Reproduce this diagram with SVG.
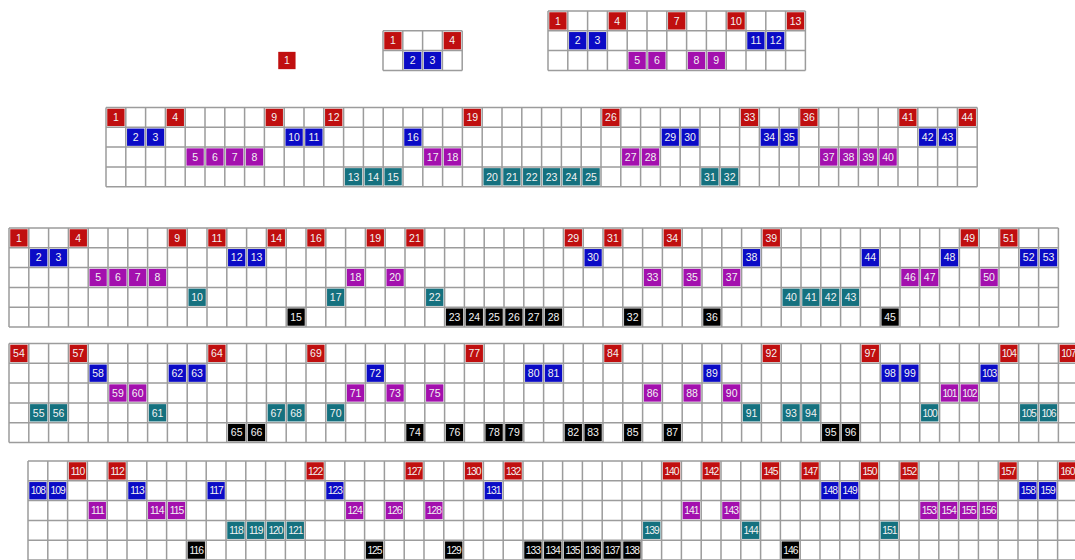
<svg xmlns="http://www.w3.org/2000/svg" xmlns:xlink="http://www.w3.org/1999/xlink" width="1075" height="560" viewBox="0 0 1075 560">
<style>
.v{stroke:#9c9c9c;stroke-dasharray:1.5 18.3;fill:none}
.r{fill:#c00f0f}.b{fill:#0b0bc6}.p{fill:#a310ae}.t{fill:#15717f}.k{fill:#000}
text{font-family:"Liberation Sans",Arial,sans-serif;font-size:10.5px;fill:#f2f2f2;text-anchor:middle}
.w text{letter-spacing:-1px;font-size:10.3px}
</style>
<defs><rect id="s" x="1.25" y="1.25" width="17.3" height="17.3"/></defs>
<rect width="1075" height="560" fill="#fff"/>

<g id="grid1" transform="translate(277,50.6)">
<g class="r"><use href="#s"/><text x="9.9" y="13.7">1</text></g>
</g>

<g id="grid2" transform="translate(383,30.8)">
<g class="lines"><line class="v" x1="-0.75" y1="19.8" x2="79.95" y2="19.8" stroke-width="39.6"/><line class="v" x1="39.6" y1="-0.75" x2="39.6" y2="40.35" stroke-width="79.2"/></g>
<g class="r" transform="translate(0,0)"><use href="#s"/><text x="9.9" y="13.7">1</text></g>
<g class="r" transform="translate(59.4,0)"><use href="#s"/><text x="9.9" y="13.7">4</text></g>
<g class="b" transform="translate(19.8,19.8)"><use href="#s"/><text x="9.9" y="13.7">2</text></g>
<g class="b" transform="translate(39.6,19.8)"><use href="#s"/><text x="9.9" y="13.7">3</text></g>
</g>

<g id="grid3" transform="translate(548,11)">
<g class="lines"><line class="v" x1="-0.75" y1="29.7" x2="258.15" y2="29.7" stroke-width="59.4"/><line class="v" x1="128.7" y1="-0.75" x2="128.7" y2="60.15" stroke-width="257.4"/></g>
<g class="r" transform="translate(0,0)"><use href="#s"/><text x="9.9" y="13.7">1</text></g>
<g class="r" transform="translate(59.4,0)"><use href="#s"/><text x="9.9" y="13.7">4</text></g>
<g class="r" transform="translate(118.8,0)"><use href="#s"/><text x="9.9" y="13.7">7</text></g>
<g class="r" transform="translate(178.2,0)"><use href="#s"/><text x="9.9" y="13.7">10</text></g>
<g class="r" transform="translate(237.6,0)"><use href="#s"/><text x="9.9" y="13.7">13</text></g>
<g class="b" transform="translate(19.8,19.8)"><use href="#s"/><text x="9.9" y="13.7">2</text></g>
<g class="b" transform="translate(39.6,19.8)"><use href="#s"/><text x="9.9" y="13.7">3</text></g>
<g class="b" transform="translate(198,19.8)"><use href="#s"/><text x="9.9" y="13.7">11</text></g>
<g class="b" transform="translate(217.8,19.8)"><use href="#s"/><text x="9.9" y="13.7">12</text></g>
<g class="p" transform="translate(79.2,39.6)"><use href="#s"/><text x="9.9" y="13.7">5</text></g>
<g class="p" transform="translate(99,39.6)"><use href="#s"/><text x="9.9" y="13.7">6</text></g>
<g class="p" transform="translate(138.6,39.6)"><use href="#s"/><text x="9.9" y="13.7">8</text></g>
<g class="p" transform="translate(158.4,39.6)"><use href="#s"/><text x="9.9" y="13.7">9</text></g>
</g>

<g id="grid4" transform="translate(106,107.5)">
<g class="lines"><line class="v" x1="-0.75" y1="39.6" x2="871.95" y2="39.6" stroke-width="79.2"/><line class="v" x1="435.6" y1="-0.75" x2="435.6" y2="79.95" stroke-width="871.2"/></g>
<g class="r" transform="translate(0,0)"><use href="#s"/><text x="9.9" y="13.7">1</text></g>
<g class="r" transform="translate(59.4,0)"><use href="#s"/><text x="9.9" y="13.7">4</text></g>
<g class="r" transform="translate(158.4,0)"><use href="#s"/><text x="9.9" y="13.7">9</text></g>
<g class="r" transform="translate(217.8,0)"><use href="#s"/><text x="9.9" y="13.7">12</text></g>
<g class="r" transform="translate(356.4,0)"><use href="#s"/><text x="9.9" y="13.7">19</text></g>
<g class="r" transform="translate(495,0)"><use href="#s"/><text x="9.9" y="13.7">26</text></g>
<g class="r" transform="translate(633.6,0)"><use href="#s"/><text x="9.9" y="13.7">33</text></g>
<g class="r" transform="translate(693,0)"><use href="#s"/><text x="9.9" y="13.7">36</text></g>
<g class="r" transform="translate(792,0)"><use href="#s"/><text x="9.9" y="13.7">41</text></g>
<g class="r" transform="translate(851.4,0)"><use href="#s"/><text x="9.9" y="13.7">44</text></g>
<g class="b" transform="translate(19.8,19.8)"><use href="#s"/><text x="9.9" y="13.7">2</text></g>
<g class="b" transform="translate(39.6,19.8)"><use href="#s"/><text x="9.9" y="13.7">3</text></g>
<g class="b" transform="translate(178.2,19.8)"><use href="#s"/><text x="9.9" y="13.7">10</text></g>
<g class="b" transform="translate(198,19.8)"><use href="#s"/><text x="9.9" y="13.7">11</text></g>
<g class="b" transform="translate(297,19.8)"><use href="#s"/><text x="9.9" y="13.7">16</text></g>
<g class="b" transform="translate(554.4,19.8)"><use href="#s"/><text x="9.9" y="13.7">29</text></g>
<g class="b" transform="translate(574.2,19.8)"><use href="#s"/><text x="9.9" y="13.7">30</text></g>
<g class="b" transform="translate(653.4,19.8)"><use href="#s"/><text x="9.9" y="13.7">34</text></g>
<g class="b" transform="translate(673.2,19.8)"><use href="#s"/><text x="9.9" y="13.7">35</text></g>
<g class="b" transform="translate(811.8,19.8)"><use href="#s"/><text x="9.9" y="13.7">42</text></g>
<g class="b" transform="translate(831.6,19.8)"><use href="#s"/><text x="9.9" y="13.7">43</text></g>
<g class="p" transform="translate(79.2,39.6)"><use href="#s"/><text x="9.9" y="13.7">5</text></g>
<g class="p" transform="translate(99,39.6)"><use href="#s"/><text x="9.9" y="13.7">6</text></g>
<g class="p" transform="translate(118.8,39.6)"><use href="#s"/><text x="9.9" y="13.7">7</text></g>
<g class="p" transform="translate(138.6,39.6)"><use href="#s"/><text x="9.9" y="13.7">8</text></g>
<g class="p" transform="translate(316.8,39.6)"><use href="#s"/><text x="9.9" y="13.7">17</text></g>
<g class="p" transform="translate(336.6,39.6)"><use href="#s"/><text x="9.9" y="13.7">18</text></g>
<g class="p" transform="translate(514.8,39.6)"><use href="#s"/><text x="9.9" y="13.7">27</text></g>
<g class="p" transform="translate(534.6,39.6)"><use href="#s"/><text x="9.9" y="13.7">28</text></g>
<g class="p" transform="translate(712.8,39.6)"><use href="#s"/><text x="9.9" y="13.7">37</text></g>
<g class="p" transform="translate(732.6,39.6)"><use href="#s"/><text x="9.9" y="13.7">38</text></g>
<g class="p" transform="translate(752.4,39.6)"><use href="#s"/><text x="9.9" y="13.7">39</text></g>
<g class="p" transform="translate(772.2,39.6)"><use href="#s"/><text x="9.9" y="13.7">40</text></g>
<g class="t" transform="translate(237.6,59.4)"><use href="#s"/><text x="9.9" y="13.7">13</text></g>
<g class="t" transform="translate(257.4,59.4)"><use href="#s"/><text x="9.9" y="13.7">14</text></g>
<g class="t" transform="translate(277.2,59.4)"><use href="#s"/><text x="9.9" y="13.7">15</text></g>
<g class="t" transform="translate(376.2,59.4)"><use href="#s"/><text x="9.9" y="13.7">20</text></g>
<g class="t" transform="translate(396,59.4)"><use href="#s"/><text x="9.9" y="13.7">21</text></g>
<g class="t" transform="translate(415.8,59.4)"><use href="#s"/><text x="9.9" y="13.7">22</text></g>
<g class="t" transform="translate(435.6,59.4)"><use href="#s"/><text x="9.9" y="13.7">23</text></g>
<g class="t" transform="translate(455.4,59.4)"><use href="#s"/><text x="9.9" y="13.7">24</text></g>
<g class="t" transform="translate(475.2,59.4)"><use href="#s"/><text x="9.9" y="13.7">25</text></g>
<g class="t" transform="translate(594,59.4)"><use href="#s"/><text x="9.9" y="13.7">31</text></g>
<g class="t" transform="translate(613.8,59.4)"><use href="#s"/><text x="9.9" y="13.7">32</text></g>
</g>

<g id="gridA" transform="translate(9,228)">
<g class="lines"><line class="v" x1="-0.75" y1="49.5" x2="1050.15" y2="49.5" stroke-width="99"/><line class="v" x1="524.7" y1="-0.75" x2="524.7" y2="99.75" stroke-width="1049.4"/></g>
<g class="r" transform="translate(0,0)"><use href="#s"/><text x="9.9" y="13.7">1</text></g>
<g class="r" transform="translate(59.4,0)"><use href="#s"/><text x="9.9" y="13.7">4</text></g>
<g class="r" transform="translate(158.4,0)"><use href="#s"/><text x="9.9" y="13.7">9</text></g>
<g class="r" transform="translate(198,0)"><use href="#s"/><text x="9.9" y="13.7">11</text></g>
<g class="r" transform="translate(257.4,0)"><use href="#s"/><text x="9.9" y="13.7">14</text></g>
<g class="r" transform="translate(297,0)"><use href="#s"/><text x="9.9" y="13.7">16</text></g>
<g class="r" transform="translate(356.4,0)"><use href="#s"/><text x="9.9" y="13.7">19</text></g>
<g class="r" transform="translate(396,0)"><use href="#s"/><text x="9.9" y="13.7">21</text></g>
<g class="r" transform="translate(554.4,0)"><use href="#s"/><text x="9.9" y="13.7">29</text></g>
<g class="r" transform="translate(594,0)"><use href="#s"/><text x="9.9" y="13.7">31</text></g>
<g class="r" transform="translate(653.4,0)"><use href="#s"/><text x="9.9" y="13.7">34</text></g>
<g class="r" transform="translate(752.4,0)"><use href="#s"/><text x="9.9" y="13.7">39</text></g>
<g class="r" transform="translate(950.4,0)"><use href="#s"/><text x="9.9" y="13.7">49</text></g>
<g class="r" transform="translate(990,0)"><use href="#s"/><text x="9.9" y="13.7">51</text></g>
<g class="b" transform="translate(19.8,19.8)"><use href="#s"/><text x="9.9" y="13.7">2</text></g>
<g class="b" transform="translate(39.6,19.8)"><use href="#s"/><text x="9.9" y="13.7">3</text></g>
<g class="b" transform="translate(217.8,19.8)"><use href="#s"/><text x="9.9" y="13.7">12</text></g>
<g class="b" transform="translate(237.6,19.8)"><use href="#s"/><text x="9.9" y="13.7">13</text></g>
<g class="b" transform="translate(574.2,19.8)"><use href="#s"/><text x="9.9" y="13.7">30</text></g>
<g class="b" transform="translate(732.6,19.8)"><use href="#s"/><text x="9.9" y="13.7">38</text></g>
<g class="b" transform="translate(851.4,19.8)"><use href="#s"/><text x="9.9" y="13.7">44</text></g>
<g class="b" transform="translate(930.6,19.8)"><use href="#s"/><text x="9.9" y="13.7">48</text></g>
<g class="b" transform="translate(1009.8,19.8)"><use href="#s"/><text x="9.9" y="13.7">52</text></g>
<g class="b" transform="translate(1029.6,19.8)"><use href="#s"/><text x="9.9" y="13.7">53</text></g>
<g class="p" transform="translate(79.2,39.6)"><use href="#s"/><text x="9.9" y="13.7">5</text></g>
<g class="p" transform="translate(99,39.6)"><use href="#s"/><text x="9.9" y="13.7">6</text></g>
<g class="p" transform="translate(118.8,39.6)"><use href="#s"/><text x="9.9" y="13.7">7</text></g>
<g class="p" transform="translate(138.6,39.6)"><use href="#s"/><text x="9.9" y="13.7">8</text></g>
<g class="p" transform="translate(336.6,39.6)"><use href="#s"/><text x="9.9" y="13.7">18</text></g>
<g class="p" transform="translate(376.2,39.6)"><use href="#s"/><text x="9.9" y="13.7">20</text></g>
<g class="p" transform="translate(633.6,39.6)"><use href="#s"/><text x="9.9" y="13.7">33</text></g>
<g class="p" transform="translate(673.2,39.6)"><use href="#s"/><text x="9.9" y="13.7">35</text></g>
<g class="p" transform="translate(712.8,39.6)"><use href="#s"/><text x="9.9" y="13.7">37</text></g>
<g class="p" transform="translate(891,39.6)"><use href="#s"/><text x="9.9" y="13.7">46</text></g>
<g class="p" transform="translate(910.8,39.6)"><use href="#s"/><text x="9.9" y="13.7">47</text></g>
<g class="p" transform="translate(970.2,39.6)"><use href="#s"/><text x="9.9" y="13.7">50</text></g>
<g class="t" transform="translate(178.2,59.4)"><use href="#s"/><text x="9.9" y="13.7">10</text></g>
<g class="t" transform="translate(316.8,59.4)"><use href="#s"/><text x="9.9" y="13.7">17</text></g>
<g class="t" transform="translate(415.8,59.4)"><use href="#s"/><text x="9.9" y="13.7">22</text></g>
<g class="t" transform="translate(772.2,59.4)"><use href="#s"/><text x="9.9" y="13.7">40</text></g>
<g class="t" transform="translate(792,59.4)"><use href="#s"/><text x="9.9" y="13.7">41</text></g>
<g class="t" transform="translate(811.8,59.4)"><use href="#s"/><text x="9.9" y="13.7">42</text></g>
<g class="t" transform="translate(831.6,59.4)"><use href="#s"/><text x="9.9" y="13.7">43</text></g>
<g class="k" transform="translate(277.2,79.2)"><use href="#s"/><text x="9.9" y="13.7">15</text></g>
<g class="k" transform="translate(435.6,79.2)"><use href="#s"/><text x="9.9" y="13.7">23</text></g>
<g class="k" transform="translate(455.4,79.2)"><use href="#s"/><text x="9.9" y="13.7">24</text></g>
<g class="k" transform="translate(475.2,79.2)"><use href="#s"/><text x="9.9" y="13.7">25</text></g>
<g class="k" transform="translate(495,79.2)"><use href="#s"/><text x="9.9" y="13.7">26</text></g>
<g class="k" transform="translate(514.8,79.2)"><use href="#s"/><text x="9.9" y="13.7">27</text></g>
<g class="k" transform="translate(534.6,79.2)"><use href="#s"/><text x="9.9" y="13.7">28</text></g>
<g class="k" transform="translate(613.8,79.2)"><use href="#s"/><text x="9.9" y="13.7">32</text></g>
<g class="k" transform="translate(693,79.2)"><use href="#s"/><text x="9.9" y="13.7">36</text></g>
<g class="k" transform="translate(871.2,79.2)"><use href="#s"/><text x="9.9" y="13.7">45</text></g>
</g>

<g id="gridB" transform="translate(9,343.5)">
<g class="lines"><line class="v" x1="-0.75" y1="49.5" x2="1069.95" y2="49.5" stroke-width="99"/><line class="v" x1="534.6" y1="-0.75" x2="534.6" y2="99.75" stroke-width="1069.2"/></g>
<g class="r" transform="translate(0,0)"><use href="#s"/><text x="9.9" y="13.7">54</text></g>
<g class="r" transform="translate(59.4,0)"><use href="#s"/><text x="9.9" y="13.7">57</text></g>
<g class="r" transform="translate(198,0)"><use href="#s"/><text x="9.9" y="13.7">64</text></g>
<g class="r" transform="translate(297,0)"><use href="#s"/><text x="9.9" y="13.7">69</text></g>
<g class="r" transform="translate(455.4,0)"><use href="#s"/><text x="9.9" y="13.7">77</text></g>
<g class="r" transform="translate(594,0)"><use href="#s"/><text x="9.9" y="13.7">84</text></g>
<g class="r" transform="translate(752.4,0)"><use href="#s"/><text x="9.9" y="13.7">92</text></g>
<g class="r" transform="translate(851.4,0)"><use href="#s"/><text x="9.9" y="13.7">97</text></g>
<g class="r w" transform="translate(990,0)"><use href="#s"/><text x="9.9" y="13.7">104</text></g>
<g class="r w" transform="translate(1049.4,0)"><use href="#s"/><text x="9.9" y="13.7">107</text></g>
<g class="b" transform="translate(79.2,19.8)"><use href="#s"/><text x="9.9" y="13.7">58</text></g>
<g class="b" transform="translate(158.4,19.8)"><use href="#s"/><text x="9.9" y="13.7">62</text></g>
<g class="b" transform="translate(178.2,19.8)"><use href="#s"/><text x="9.9" y="13.7">63</text></g>
<g class="b" transform="translate(356.4,19.8)"><use href="#s"/><text x="9.9" y="13.7">72</text></g>
<g class="b" transform="translate(514.8,19.8)"><use href="#s"/><text x="9.9" y="13.7">80</text></g>
<g class="b" transform="translate(534.6,19.8)"><use href="#s"/><text x="9.9" y="13.7">81</text></g>
<g class="b" transform="translate(693,19.8)"><use href="#s"/><text x="9.9" y="13.7">89</text></g>
<g class="b" transform="translate(871.2,19.8)"><use href="#s"/><text x="9.9" y="13.7">98</text></g>
<g class="b" transform="translate(891,19.8)"><use href="#s"/><text x="9.9" y="13.7">99</text></g>
<g class="b w" transform="translate(970.2,19.8)"><use href="#s"/><text x="9.9" y="13.7">103</text></g>
<g class="p" transform="translate(99,39.6)"><use href="#s"/><text x="9.9" y="13.7">59</text></g>
<g class="p" transform="translate(118.8,39.6)"><use href="#s"/><text x="9.9" y="13.7">60</text></g>
<g class="p" transform="translate(336.6,39.6)"><use href="#s"/><text x="9.9" y="13.7">71</text></g>
<g class="p" transform="translate(376.2,39.6)"><use href="#s"/><text x="9.9" y="13.7">73</text></g>
<g class="p" transform="translate(415.8,39.6)"><use href="#s"/><text x="9.9" y="13.7">75</text></g>
<g class="p" transform="translate(633.6,39.6)"><use href="#s"/><text x="9.9" y="13.7">86</text></g>
<g class="p" transform="translate(673.2,39.6)"><use href="#s"/><text x="9.9" y="13.7">88</text></g>
<g class="p" transform="translate(712.8,39.6)"><use href="#s"/><text x="9.9" y="13.7">90</text></g>
<g class="p w" transform="translate(930.6,39.6)"><use href="#s"/><text x="9.9" y="13.7">101</text></g>
<g class="p w" transform="translate(950.4,39.6)"><use href="#s"/><text x="9.9" y="13.7">102</text></g>
<g class="t" transform="translate(19.8,59.4)"><use href="#s"/><text x="9.9" y="13.7">55</text></g>
<g class="t" transform="translate(39.6,59.4)"><use href="#s"/><text x="9.9" y="13.7">56</text></g>
<g class="t" transform="translate(138.6,59.4)"><use href="#s"/><text x="9.9" y="13.7">61</text></g>
<g class="t" transform="translate(257.4,59.4)"><use href="#s"/><text x="9.9" y="13.7">67</text></g>
<g class="t" transform="translate(277.2,59.4)"><use href="#s"/><text x="9.9" y="13.7">68</text></g>
<g class="t" transform="translate(316.8,59.4)"><use href="#s"/><text x="9.9" y="13.7">70</text></g>
<g class="t" transform="translate(732.6,59.4)"><use href="#s"/><text x="9.9" y="13.7">91</text></g>
<g class="t" transform="translate(772.2,59.4)"><use href="#s"/><text x="9.9" y="13.7">93</text></g>
<g class="t" transform="translate(792,59.4)"><use href="#s"/><text x="9.9" y="13.7">94</text></g>
<g class="t w" transform="translate(910.8,59.4)"><use href="#s"/><text x="9.9" y="13.7">100</text></g>
<g class="t w" transform="translate(1009.8,59.4)"><use href="#s"/><text x="9.9" y="13.7">105</text></g>
<g class="t w" transform="translate(1029.6,59.4)"><use href="#s"/><text x="9.9" y="13.7">106</text></g>
<g class="k" transform="translate(217.8,79.2)"><use href="#s"/><text x="9.9" y="13.7">65</text></g>
<g class="k" transform="translate(237.6,79.2)"><use href="#s"/><text x="9.9" y="13.7">66</text></g>
<g class="k" transform="translate(396,79.2)"><use href="#s"/><text x="9.9" y="13.7">74</text></g>
<g class="k" transform="translate(435.6,79.2)"><use href="#s"/><text x="9.9" y="13.7">76</text></g>
<g class="k" transform="translate(475.2,79.2)"><use href="#s"/><text x="9.9" y="13.7">78</text></g>
<g class="k" transform="translate(495,79.2)"><use href="#s"/><text x="9.9" y="13.7">79</text></g>
<g class="k" transform="translate(554.4,79.2)"><use href="#s"/><text x="9.9" y="13.7">82</text></g>
<g class="k" transform="translate(574.2,79.2)"><use href="#s"/><text x="9.9" y="13.7">83</text></g>
<g class="k" transform="translate(613.8,79.2)"><use href="#s"/><text x="9.9" y="13.7">85</text></g>
<g class="k" transform="translate(653.4,79.2)"><use href="#s"/><text x="9.9" y="13.7">87</text></g>
<g class="k" transform="translate(811.8,79.2)"><use href="#s"/><text x="9.9" y="13.7">95</text></g>
<g class="k" transform="translate(831.6,79.2)"><use href="#s"/><text x="9.9" y="13.7">96</text></g>
</g>

<g id="gridC" transform="translate(28,461)">
<g class="lines"><line class="v" x1="-0.75" y1="49.5" x2="1050.15" y2="49.5" stroke-width="99"/><line class="v" x1="524.7" y1="-0.75" x2="524.7" y2="99.75" stroke-width="1049.4"/></g>
<g class="r w" transform="translate(39.6,0)"><use href="#s"/><text x="9.9" y="13.7">110</text></g>
<g class="r w" transform="translate(79.2,0)"><use href="#s"/><text x="9.9" y="13.7">112</text></g>
<g class="r w" transform="translate(277.2,0)"><use href="#s"/><text x="9.9" y="13.7">122</text></g>
<g class="r w" transform="translate(376.2,0)"><use href="#s"/><text x="9.9" y="13.7">127</text></g>
<g class="r w" transform="translate(435.6,0)"><use href="#s"/><text x="9.9" y="13.7">130</text></g>
<g class="r w" transform="translate(475.2,0)"><use href="#s"/><text x="9.9" y="13.7">132</text></g>
<g class="r w" transform="translate(633.6,0)"><use href="#s"/><text x="9.9" y="13.7">140</text></g>
<g class="r w" transform="translate(673.2,0)"><use href="#s"/><text x="9.9" y="13.7">142</text></g>
<g class="r w" transform="translate(732.6,0)"><use href="#s"/><text x="9.9" y="13.7">145</text></g>
<g class="r w" transform="translate(772.2,0)"><use href="#s"/><text x="9.9" y="13.7">147</text></g>
<g class="r w" transform="translate(831.6,0)"><use href="#s"/><text x="9.9" y="13.7">150</text></g>
<g class="r w" transform="translate(871.2,0)"><use href="#s"/><text x="9.9" y="13.7">152</text></g>
<g class="r w" transform="translate(970.2,0)"><use href="#s"/><text x="9.9" y="13.7">157</text></g>
<g class="r w" transform="translate(1029.6,0)"><use href="#s"/><text x="9.9" y="13.7">160</text></g>
<g class="b w" transform="translate(0,19.8)"><use href="#s"/><text x="9.9" y="13.7">108</text></g>
<g class="b w" transform="translate(19.8,19.8)"><use href="#s"/><text x="9.9" y="13.7">109</text></g>
<g class="b w" transform="translate(99,19.8)"><use href="#s"/><text x="9.9" y="13.7">113</text></g>
<g class="b w" transform="translate(178.2,19.8)"><use href="#s"/><text x="9.9" y="13.7">117</text></g>
<g class="b w" transform="translate(297,19.8)"><use href="#s"/><text x="9.9" y="13.7">123</text></g>
<g class="b w" transform="translate(455.4,19.8)"><use href="#s"/><text x="9.9" y="13.7">131</text></g>
<g class="b w" transform="translate(792,19.8)"><use href="#s"/><text x="9.9" y="13.7">148</text></g>
<g class="b w" transform="translate(811.8,19.8)"><use href="#s"/><text x="9.9" y="13.7">149</text></g>
<g class="b w" transform="translate(990,19.8)"><use href="#s"/><text x="9.9" y="13.7">158</text></g>
<g class="b w" transform="translate(1009.8,19.8)"><use href="#s"/><text x="9.9" y="13.7">159</text></g>
<g class="p w" transform="translate(59.4,39.6)"><use href="#s"/><text x="9.9" y="13.7">111</text></g>
<g class="p w" transform="translate(118.8,39.6)"><use href="#s"/><text x="9.9" y="13.7">114</text></g>
<g class="p w" transform="translate(138.6,39.6)"><use href="#s"/><text x="9.9" y="13.7">115</text></g>
<g class="p w" transform="translate(316.8,39.6)"><use href="#s"/><text x="9.9" y="13.7">124</text></g>
<g class="p w" transform="translate(356.4,39.6)"><use href="#s"/><text x="9.9" y="13.7">126</text></g>
<g class="p w" transform="translate(396,39.6)"><use href="#s"/><text x="9.9" y="13.7">128</text></g>
<g class="p w" transform="translate(653.4,39.6)"><use href="#s"/><text x="9.9" y="13.7">141</text></g>
<g class="p w" transform="translate(693,39.6)"><use href="#s"/><text x="9.9" y="13.7">143</text></g>
<g class="p w" transform="translate(891,39.6)"><use href="#s"/><text x="9.9" y="13.7">153</text></g>
<g class="p w" transform="translate(910.8,39.6)"><use href="#s"/><text x="9.9" y="13.7">154</text></g>
<g class="p w" transform="translate(930.6,39.6)"><use href="#s"/><text x="9.9" y="13.7">155</text></g>
<g class="p w" transform="translate(950.4,39.6)"><use href="#s"/><text x="9.9" y="13.7">156</text></g>
<g class="t w" transform="translate(198,59.4)"><use href="#s"/><text x="9.9" y="13.7">118</text></g>
<g class="t w" transform="translate(217.8,59.4)"><use href="#s"/><text x="9.9" y="13.7">119</text></g>
<g class="t w" transform="translate(237.6,59.4)"><use href="#s"/><text x="9.9" y="13.7">120</text></g>
<g class="t w" transform="translate(257.4,59.4)"><use href="#s"/><text x="9.9" y="13.7">121</text></g>
<g class="t w" transform="translate(613.8,59.4)"><use href="#s"/><text x="9.9" y="13.7">139</text></g>
<g class="t w" transform="translate(712.8,59.4)"><use href="#s"/><text x="9.9" y="13.7">144</text></g>
<g class="t w" transform="translate(851.4,59.4)"><use href="#s"/><text x="9.9" y="13.7">151</text></g>
<g class="k w" transform="translate(158.4,79.2)"><use href="#s"/><text x="9.9" y="13.7">116</text></g>
<g class="k w" transform="translate(336.6,79.2)"><use href="#s"/><text x="9.9" y="13.7">125</text></g>
<g class="k w" transform="translate(415.8,79.2)"><use href="#s"/><text x="9.9" y="13.7">129</text></g>
<g class="k w" transform="translate(495,79.2)"><use href="#s"/><text x="9.9" y="13.7">133</text></g>
<g class="k w" transform="translate(514.8,79.2)"><use href="#s"/><text x="9.9" y="13.7">134</text></g>
<g class="k w" transform="translate(534.6,79.2)"><use href="#s"/><text x="9.9" y="13.7">135</text></g>
<g class="k w" transform="translate(554.4,79.2)"><use href="#s"/><text x="9.9" y="13.7">136</text></g>
<g class="k w" transform="translate(574.2,79.2)"><use href="#s"/><text x="9.9" y="13.7">137</text></g>
<g class="k w" transform="translate(594,79.2)"><use href="#s"/><text x="9.9" y="13.7">138</text></g>
<g class="k w" transform="translate(752.4,79.2)"><use href="#s"/><text x="9.9" y="13.7">146</text></g>
</g>
</svg>
